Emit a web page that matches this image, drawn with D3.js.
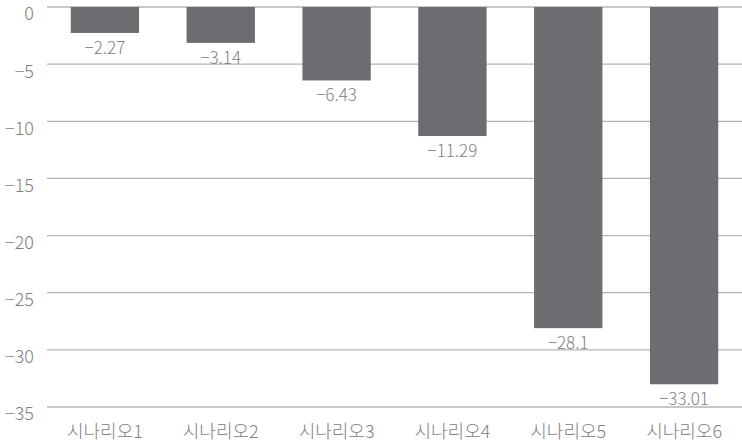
<!DOCTYPE html>
<html>
<head>
<meta charset="utf-8">
<script src="https://cdn.jsdelivr.net/npm/d3@7"></script>
<style>
  body { margin: 0; background: #fff; }
  text { font-family: "Noto Sans CJK KR", "Noto Sans", sans-serif; font-weight: 300; fill: #808083; }
</style>
</head>
<body>
<div id="chart"></div>
<script>
var categories = ["시나리오1", "시나리오2", "시나리오3", "시나리오4", "시나리오5", "시나리오6"];
var values = [-2.27, -3.14, -6.43, -11.29, -28.1, -33.01];
var valueLabels = ["−2.27", "−3.14", "−6.43", "−11.29", "−28.1", "−33.01"];
var yTicks = [0, -5, -10, -15, -20, -25, -30, -35];

var W = 742, H = 445;
var margin = {top: 7, right: 0, bottom: 38, left: 47};
var width = W - margin.left - margin.right,
    height = H - margin.top - margin.bottom;

var svg = d3.select("#chart").append("svg")
    .attr("width", W)
    .attr("height", H);

var g = svg.append("g")
    .attr("transform", "translate(" + margin.left + "," + margin.top + ")");

var x = d3.scaleBand().domain(categories).range([0, width]).paddingInner(0.41).paddingOuter(0.205);
var y = d3.scaleLinear().domain([0, -35]).range([0, height]);

// gridlines
g.selectAll(".grid")
    .data(yTicks)
    .enter().append("line")
    .attr("x1", 0)
    .attr("x2", width)
    .attr("y1", function(d) { return y(d); })
    .attr("y2", function(d) { return y(d); })
    .attr("stroke", "#b4b4b4")
    .attr("stroke-width", 1.3);

// y tick labels (sit a little below their line, as in the original)
g.selectAll(".ytick")
    .data(yTicks)
    .enter().append("text")
    .attr("x", -13)
    .attr("y", function(d) { return y(d) + 7; })
    .attr("dy", "0.36em")
    .attr("text-anchor", "end")
    .attr("font-size", "18px")
    .text(function(d) { return d === 0 ? "0" : "−" + Math.abs(d); });

// bars
g.selectAll(".bar")
    .data(values)
    .enter().append("rect")
    .attr("x", function(d, i) { return x(categories[i]); })
    .attr("y", y(0))
    .attr("width", x.bandwidth())
    .attr("height", function(d) { return y(d) - y(0); })
    .attr("fill", "#6c6d71");

// value labels
g.selectAll(".vlabel")
    .data(values)
    .enter().append("text")
    .attr("x", function(d, i) { return x(categories[i]) + x.bandwidth() / 2; })
    .attr("y", function(d) { return y(d) + 21; })
    .attr("text-anchor", "middle")
    .attr("font-size", "17px")
    .text(function(d, i) { return valueLabels[i]; });

// category labels
g.selectAll(".xlabel")
    .data(categories)
    .enter().append("text")
    .attr("x", function(d) { return x(d) + x.bandwidth() / 2; })
    .attr("y", height + 31)
    .attr("text-anchor", "middle")
    .attr("font-size", "18px")
    .text(function(d) { return d; });
</script>
</body>
</html>
